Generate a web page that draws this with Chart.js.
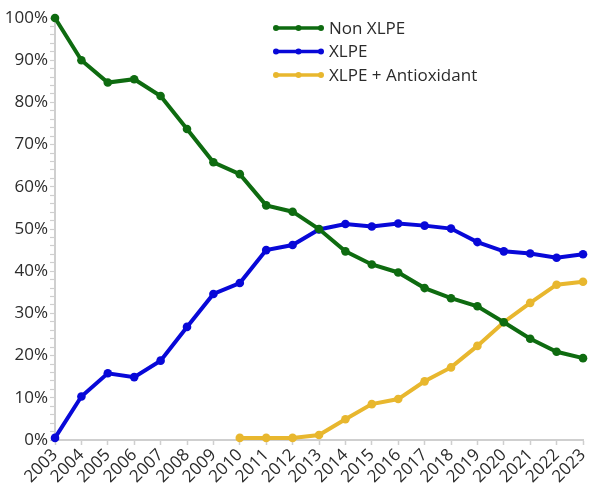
<!DOCTYPE html>
<html>
<head>
<meta charset="utf-8">
<script src="https://cdn.jsdelivr.net/npm/chart.js@4/dist/chart.umd.min.js"></script>
<style>
  html, body { margin: 0; padding: 0; background: #fff; }
  #wrap { position: relative; width: 589px; height: 491px; }
</style>
</head>
<body>
<div id="wrap"><canvas id="c" width="589" height="491"></canvas></div>
<script>
// Share of cable insulation type by year (%)
const years = ['2003','2004','2005','2006','2007','2008','2009','2010','2011','2012','2013',
               '2014','2015','2016','2017','2018','2019','2020','2021','2022','2023'];
const nonXlpe = [100, 90.0, 84.7, 85.5, 81.5, 73.7, 65.8, 63.0, 55.6, 54.1, 50.0,
                 44.7, 41.6, 39.7, 36.0, 33.6, 31.7, 27.9, 24.0, 20.9, 19.4];
const xlpe = [0.5, 10.3, 15.8, 14.9, 18.8, 26.8, 34.6, 37.2, 45.0, 46.2, 49.9,
              51.2, 50.6, 51.3, 50.8, 50.1, 46.9, 44.7, 44.2, 43.2, 44.0];
const xlpeAntiox = [null, null, null, null, null, null, null, 0.5, 0.5, 0.5, 1.2,
                    4.9, 8.5, 9.7, 13.9, 17.2, 22.3, 27.9, 32.5, 36.8, 37.5];
const seriesNames = ['Non XLPE', 'XLPE', 'XLPE + Antioxidant'];
const seriesColors = ['#0e6b10', '#0808d8', '#e8b72e'];

const FONT = "'Open Sans', 'Noto Sans', sans-serif";
const TEXT = '#2b2b2b';
const AXIS = '#cfcfcf';

function ds(i, data) {
  return {
    label: seriesNames[i],
    data: data,
    borderColor: seriesColors[i],
    backgroundColor: seriesColors[i],
    borderWidth: 4,
    pointRadius: 4.3,
    pointHoverRadius: 4.3,
    pointBorderWidth: 0,
    tension: 0,
    spanGaps: false,
    clip: false
  };
}

// Legend drawn inside the plot area, with line-and-marker samples
const innerLegend = {
  id: 'innerLegend',
  afterDraw(chart) {
    const ctx = chart.ctx;
    const x0 = 276, x1 = 321, tx = 329;
    const rows = [28, 51.5, 75];
    ctx.save();
    chart.data.datasets.forEach((d, i) => {
      const y = rows[i];
      ctx.strokeStyle = d.borderColor;
      ctx.fillStyle = d.borderColor;
      ctx.lineWidth = 3.5;
      ctx.beginPath();
      ctx.moveTo(x0, y);
      ctx.lineTo(x1, y);
      ctx.stroke();
      [x0, (x0 + x1) / 2, x1].forEach(px => {
        ctx.beginPath();
        ctx.arc(px, y, 3, 0, Math.PI * 2);
        ctx.fill();
      });
      ctx.fillStyle = TEXT;
      ctx.font = '17px ' + FONT;
      ctx.textBaseline = 'middle';
      ctx.textAlign = 'left';
      ctx.fillText(d.label, tx, y + 1);
    });
    ctx.restore();
  }
};

new Chart(document.getElementById('c'), {
  type: 'line',
  data: {
    labels: years,
    datasets: [ds(0, nonXlpe), ds(1, xlpe), ds(2, xlpeAntiox)]
  },
  options: {
    responsive: false,
    animation: false,
    events: [],
    layout: { padding: { top: 18, right: 6, left: 0, bottom: 0 } },
    plugins: { legend: { display: false }, tooltip: { enabled: false } },
    scales: {
      x: {
        type: 'category',
        offset: false,
        border: { display: true, color: AXIS, width: 2 },
        grid: { display: true, drawOnChartArea: false, drawTicks: true, tickLength: 5, color: AXIS, tickWidth: 1.5 },
        ticks: {
          color: TEXT,
          font: { family: FONT, size: 17 },
          maxRotation: 45, minRotation: 45,
          autoSkip: false,
          padding: 0
        },
        afterFit(scale) {
          scale.height = 51;
          scale.paddingRight = 0;
          scale.paddingLeft = 0;
        }
      },
      y: {
        min: 0, max: 100,
        border: { display: true, color: AXIS, width: 2 },
        grid: { display: true, drawOnChartArea: false, drawTicks: true, tickLength: 5, color: AXIS, tickWidth: 1.2 },
        ticks: {
          stepSize: 2,
          autoSkip: false,
          color: TEXT,
          font: { family: FONT, size: 17 },
          padding: 2,
          callback: v => (v % 10 === 0 ? v + '%' : '')
        },
        afterFit(scale) { scale.width = 55; }
      }
    }
  },
  plugins: [innerLegend]
});
</script>
</body>
</html>
